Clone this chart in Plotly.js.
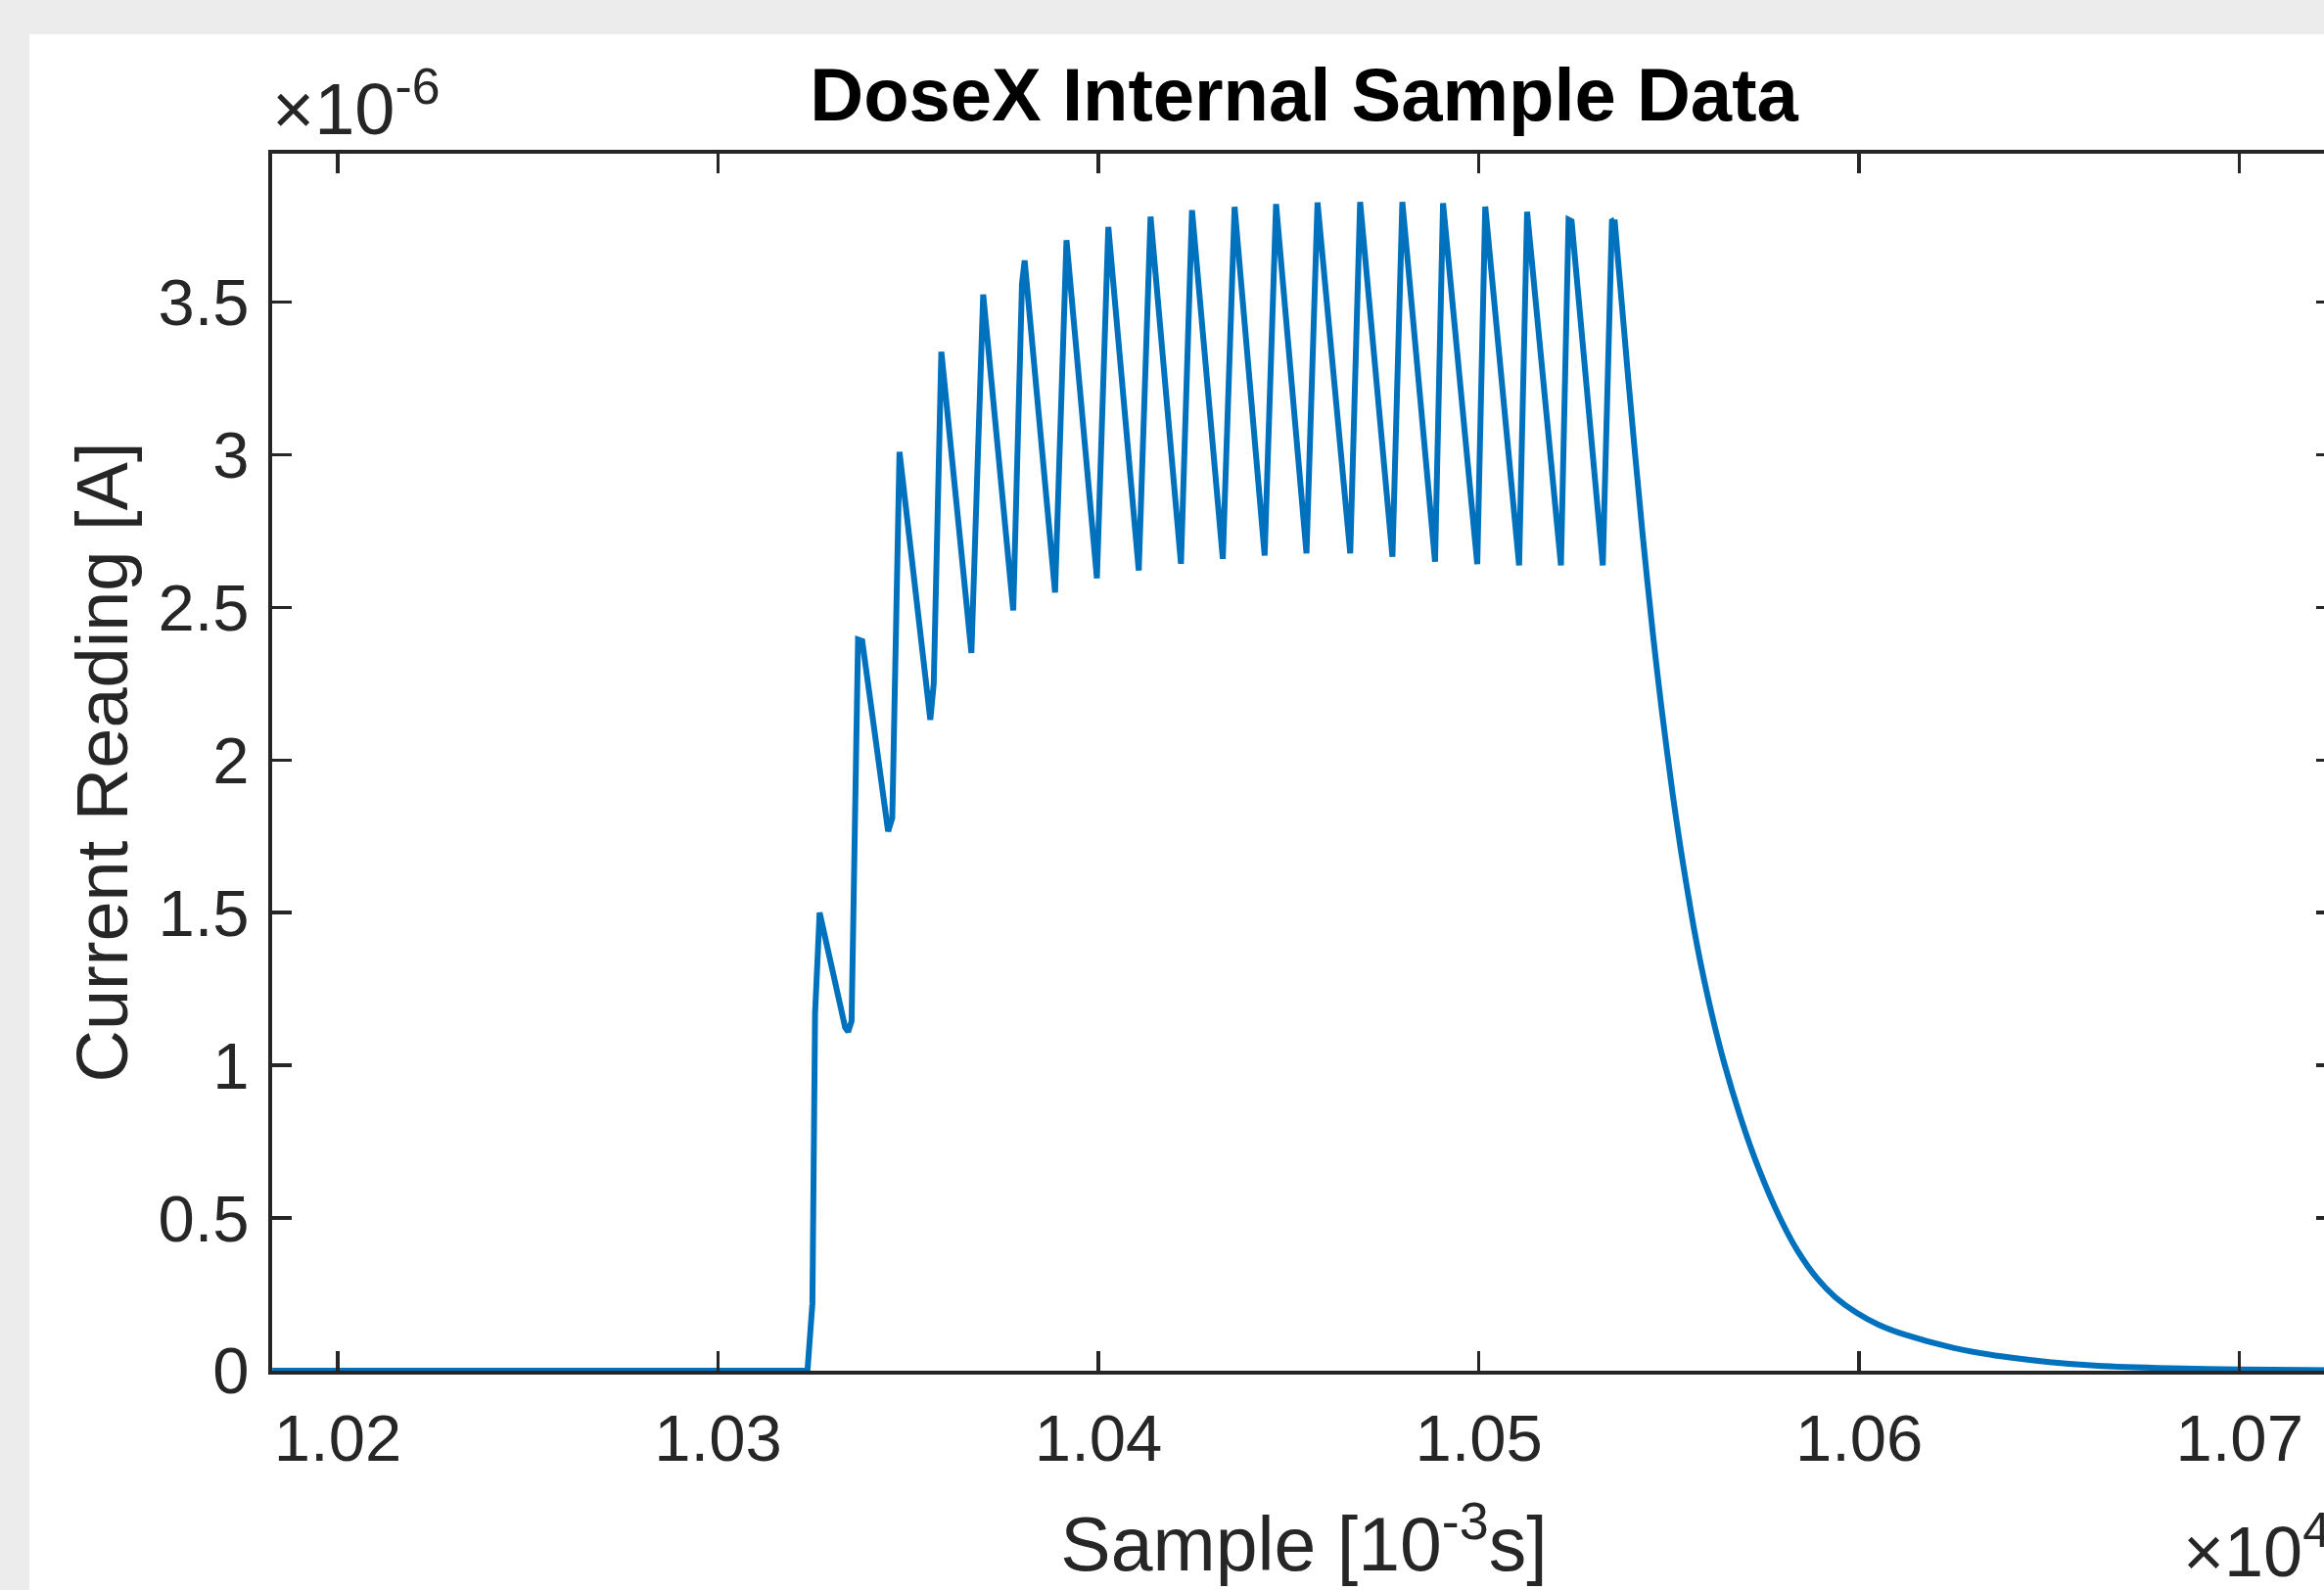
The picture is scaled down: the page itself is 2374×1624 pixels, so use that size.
<!DOCTYPE html>
<html>
<head>
<meta charset="utf-8">
<script src="https://cdn.plot.ly/plotly-3.0.1.min.js"></script>
<style>
html, body { margin:0; padding:0; background:#ECECEC; overflow:hidden; width:2374px; height:1624px; }
#chart { position:absolute; left:30px; top:35px; width:2400px; height:1589px; }
</style>
</head>
<body>
<div id="chart"></div>
<script>
// Sample index (x) and current reading in units of 1e-6 A (y)
// Rising part + sawtooth plateau
const sampleIndex = [
  10182.8, 10323.5, 10324.8, 10325.5, 10326.7,
  10333.4, 10334.2, 10335.1, 10336.8, 10337.9,
  10344.7, 10345.8, 10347.7,
  10355.8, 10356.7, 10358.7,
  10366.6, 10369.7,
  10377.6, 10379.9, 10380.6,
  10388.6, 10391.6,
  10399.6, 10402.6,
  10410.6, 10413.7,
  10421.7, 10424.6,
  10432.7, 10435.8,
  10443.7, 10446.7,
  10454.7, 10457.6,
  10466.2, 10468.8,
  10477.3, 10479.9,
  10488.5, 10490.6,
  10499.6, 10501.7,
  10510.6, 10512.7,
  10521.6, 10523.6, 10524.4,
  10532.6, 10535.0, 10535.7
];
const currentMicroA = [
  0, 0, 0.22, 1.17, 1.50,
  1.125, 1.11, 1.145, 2.395, 2.39,
  1.767, 1.81, 3.009,
  2.132, 2.25, 3.337,
  2.351, 3.525,
  2.49, 3.56, 3.636,
  2.549, 3.703,
  2.595, 3.746,
  2.621, 3.780,
  2.643, 3.801,
  2.659, 3.812,
  2.670, 3.821,
  2.677, 3.826,
  2.677, 3.828,
  2.666, 3.828,
  2.650, 3.824,
  2.642, 3.813,
  2.638, 3.796,
  2.638, 3.770, 3.765,
  2.638, 3.765, 3.770
];
// Decay tail after the last pulse
const decaySample = [
  10535.7, 10539.3, 10543.1, 10545.9, 10548.1, 10551.0, 10553.2, 10556.1,
  10558.3, 10561.2, 10564.6, 10568.8, 10573.5, 10579.0, 10583.7, 10589.1,
  10593.8, 10599.3, 10605.2, 10612.0, 10624.7, 10637.3, 10650.0, 10662.8,
  10681.8, 10700.0, 10725.3
];
const decayMicroA = [
  3.770, 3.248, 2.735, 2.399, 2.164, 1.886, 1.699, 1.481,
  1.336, 1.171, 1.004, 0.830, 0.665, 0.505, 0.395, 0.300,
  0.240, 0.190, 0.150, 0.118, 0.075, 0.047, 0.028, 0.016,
  0.008, 0.004, 0.0015
];
const xTickVals = [10200, 10300, 10400, 10500, 10600, 10700];
const xTickText = ['1.02', '1.03', '1.04', '1.05', '1.06', '1.07'];
const yTickVals = [0, 0.5, 1, 1.5, 2, 2.5, 3, 3.5];
const yTickText = ['0', '0.5', '1', '1.5', '2', '2.5', '3', '3.5'];

const FONT = 'Liberation Sans, Arial, Helvetica, sans-serif';
const AXC = '#262626';
const LINE = { color: '#0072BD', width: 6 };

const pulseTrace = {
  x: sampleIndex, y: currentMicroA,
  type: 'scatter', mode: 'lines',
  line: Object.assign({}, LINE, { shape: 'linear' }),
  hoverinfo: 'skip'
};
const decayTrace = {
  x: decaySample, y: decayMicroA,
  type: 'scatter', mode: 'lines',
  line: Object.assign({}, LINE, { shape: 'spline', smoothing: 0.8 }),
  hoverinfo: 'skip'
};

const axisCommon = {
  showgrid: false,
  zeroline: false,
  showline: true,
  linecolor: AXC,
  linewidth: 4,
  mirror: 'ticks',
  ticks: 'inside',
  ticklen: 20,
  tickwidth: 3.5,
  tickcolor: AXC,
  tickfont: { family: FONT, size: 67, color: AXC },
  fixedrange: true
};

const layout = {
  width: 2400,
  height: 1589,
  paper_bgcolor: '#FFFFFF',
  plot_bgcolor: '#FFFFFF',
  showlegend: false,
  margin: { l: 247.5, r: 44, t: 122, b: 224, pad: 0 },
  title: {
    text: '<b>DoseX Internal Sample Data</b>',
    font: { family: FONT, size: 76, color: '#000000' },
    xref: 'paper', x: 0.5, xanchor: 'center',
    yref: 'container', y: 0.9613, yanchor: 'middle'
  },
  xaxis: Object.assign({}, axisCommon, {
    range: [10182.76, 10725.3],
    tickmode: 'array',
    tickvals: xTickVals,
    ticktext: xTickText,
    ticklabelstandoff: 8,
    title: {
      text: 'Sample [10<sup>-3</sup>s]',
      font: { family: FONT, size: 77, color: AXC },
      standoff: 46
    }
  }),
  yaxis: Object.assign({}, axisCommon, {
    range: [0, 3.986],
    tickmode: 'array',
    tickvals: yTickVals,
    ticktext: yTickText,
    ticklabelstandoff: 6,
    title: {
      text: 'Current Reading [A]',
      font: { family: FONT, size: 74, color: AXC },
      standoff: 8
    }
  }),
  annotations: [
    {
      text: '×10<sup>-6</sup>',
      xref: 'paper', yref: 'paper', x: 0, y: 1,
      xanchor: 'left', yanchor: 'bottom',
      xshift: -2, yshift: 2,
      showarrow: false,
      font: { family: FONT, size: 74, color: AXC }
    },
    {
      text: '×10<sup>4</sup>',
      xref: 'paper', yref: 'paper', x: 1, y: 0,
      xanchor: 'left', yanchor: 'top',
      xshift: -158, yshift: -132,
      showarrow: false,
      font: { family: FONT, size: 72, color: AXC }
    }
  ]
};

Plotly.newPlot('chart', [pulseTrace, decayTrace], layout, { displayModeBar: false, staticPlot: true });
</script>
</body>
</html>
